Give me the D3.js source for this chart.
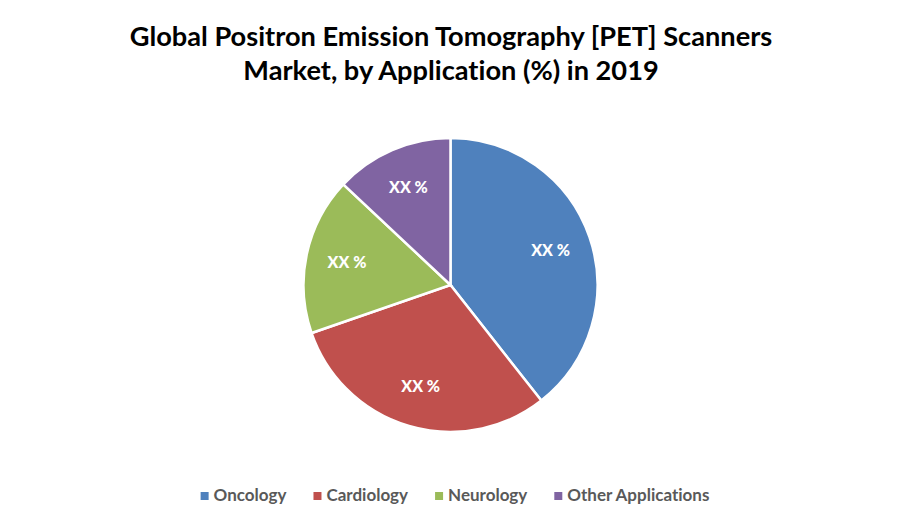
<!DOCTYPE html>
<html>
<head>
<meta charset="utf-8">
<script src="https://cdn.jsdelivr.net/npm/d3@7"></script>
<style>
  body { margin: 0; background: #fff; }
  svg { display: block; }
  text { font-variant-ligatures: none; }
</style>
</head>
<body>
<svg id="chart"></svg>
<script>
const categories = ["Oncology", "Cardiology", "Neurology", "Other Applications"];
const shares = [39.4, 30.3, 17.3, 13.0];
const labels = ["XX %", "XX %", "XX %", "XX %"];
const colors = ["#4F81BD", "#C0504D", "#9BBB59", "#8064A2"];
const titleLines = ["Global Positron Emission Tomography [PET] Scanners", "Market, by Application (%) in 2019"];

const width = 902, height = 527;
const font = "Lato, 'Open Sans', sans-serif";

const svg = d3.select("#chart").attr("width", width).attr("height", height);

// title
svg.append("g").selectAll("text")
    .data(titleLines)
    .join("text")
    .attr("x", width / 2)
    .attr("y", (d, i) => 46 + i * 34)
    .attr("text-anchor", "middle")
    .attr("font-family", font)
    .attr("font-weight", "bold")
    .attr("font-size", "27.2px")
    .attr("fill", "#000")
    .text(d => d);

// pie
const radius = 147;
const pieData = categories.map((c, i) => ({ name: c, value: shares[i], label: labels[i], color: colors[i] }));
const pie = d3.pie().sort(null).value(d => d.value);
const arc = d3.arc().innerRadius(0).outerRadius(radius);
const labelArc = d3.arc().innerRadius(radius * 0.72).outerRadius(radius * 0.72);

const g = svg.append("g").attr("transform", `translate(${450.5}, ${285})`);

g.selectAll("path")
    .data(pie(pieData))
    .join("path")
    .attr("d", arc)
    .attr("fill", d => d.data.color)
    .attr("stroke", "#fff")
    .attr("stroke-width", 2.5);

g.selectAll("text")
    .data(pie(pieData))
    .join("text")
    .attr("transform", d => `translate(${labelArc.centroid(d)})`)
    .attr("dy", "0.35em")
    .attr("text-anchor", "middle")
    .attr("font-family", font)
    .attr("font-weight", "900")
    .attr("font-size", "16px")
    .attr("fill", "#fff")
    .text(d => d.data.label);

// legend
const legend = svg.append("g");
const items = legend.selectAll("g")
    .data(pieData)
    .join("g");

items.append("rect")
    .attr("width", 8)
    .attr("height", 8)
    .attr("fill", d => d.color);

items.append("text")
    .attr("x", 13)
    .attr("y", 9)
    .attr("font-family", font)
    .attr("font-weight", "bold")
    .attr("font-size", "17px")
    .attr("fill", "#595959")
    .text(d => d.name);

const gap = 27;
let xPos = 0;
const offsets = [];
items.each(function () {
    const w = this.querySelector("text").getComputedTextLength() + 13;
    offsets.push(xPos);
    xPos += w + gap;
});
const totalW = xPos - gap;
const startX = width / 2 + 4 - totalW / 2;
items.attr("transform", (d, i) => `translate(${startX + offsets[i]}, ${492})`);
</script>
</body>
</html>
